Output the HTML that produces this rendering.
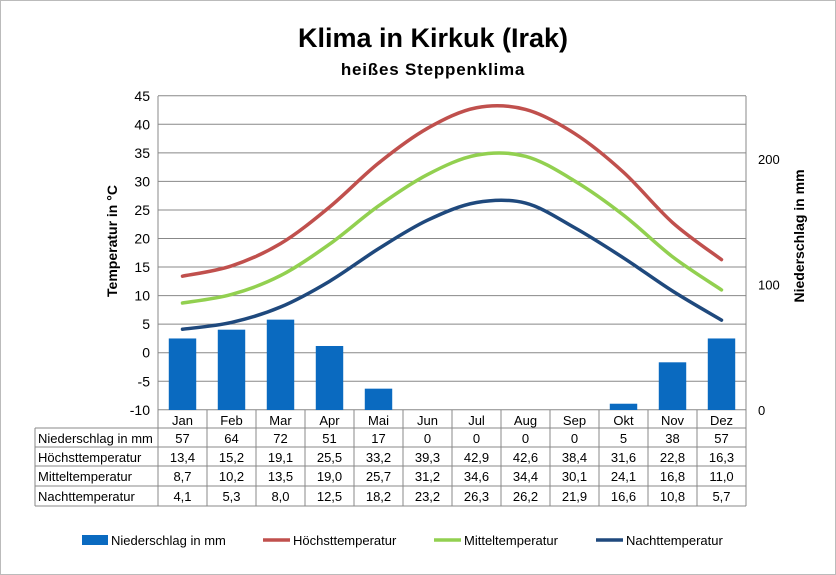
<!DOCTYPE html>
<html><head><meta charset="utf-8"><style>
body{margin:0;background:#fff;}
svg{display:block;font-family:"Liberation Sans",sans-serif;}
</style></head><body>
<svg id="s" width="836" height="575" xmlns="http://www.w3.org/2000/svg">
<rect x="0.5" y="0.5" width="835" height="574" fill="#fff" stroke="#bbb"/>
<text x="433" y="47" text-anchor="middle" font-size="27" font-weight="bold">Klima in Kirkuk (Irak)</text>
<text x="433" y="75" text-anchor="middle" font-size="17" font-weight="bold" letter-spacing="0.8">heißes Steppenklima</text>
<text transform="translate(117,241) rotate(-90)" text-anchor="middle" font-size="14" font-weight="bold">Temperatur in °C</text>
<text transform="translate(804,236) rotate(-90)" text-anchor="middle" font-size="14" font-weight="bold">Niederschlag in mm</text>
<g id="g"></g>
</svg>
<script>
const g=document.getElementById('g');let h='';
const L=158,R=746,cw=(R-L)/12;
const ty=t=>352.7-t*5.71, py=p=>410-p*1.255;
for(let t=-10;t<=45;t+=5){const y=ty(t);h+=`<line x1="${L}" x2="${R}" y1="${y}" y2="${y}" stroke="#888" stroke-width="1"/>`;h+=`<text x="150" y="${y+5}" text-anchor="end" font-size="14">${t}</text>`;}
h+=`<line x1="${L}" x2="${L}" y1="96" y2="410" stroke="#888"/><line x1="${R}" x2="${R}" y1="96" y2="410" stroke="#888"/>`;
[[0,'0'],[100,'100'],[200,'200']].forEach(([v,s])=>{h+=`<text x="758" y="${py(v)+5}" font-size="13">${s}</text>`});
const M=['Jan','Feb','Mar','Apr','Mai','Jun','Jul','Aug','Sep','Okt','Nov','Dez'];
const P=[57,64,72,51,17,0,0,0,0,5,38,57];
const H=[13.4,15.2,19.1,25.5,33.2,39.3,42.9,42.6,38.4,31.6,22.8,16.3];
const Mi=[8.7,10.2,13.5,19.0,25.7,31.2,34.6,34.4,30.1,24.1,16.8,11.0];
const N=[4.1,5.3,8.0,12.5,18.2,23.2,26.3,26.2,21.9,16.6,10.8,5.7];
P.forEach((p,i)=>{if(p>0){const x=L+i*cw+cw*0.22;h+=`<rect x="${x}" y="${py(p)}" width="${cw*0.56}" height="${410-py(p)}" fill="#0a6ac0"/>`;}});
function curve(d,c){const pts=d.map((t,i)=>[L+i*cw+cw/2,ty(t)]);let s=`M${pts[0]}`;for(let i=0;i<pts.length-1;i++){const p0=pts[Math.max(i-1,0)],p1=pts[i],p2=pts[i+1],p3=pts[Math.min(i+2,pts.length-1)];const c1=[p1[0]+(p2[0]-p0[0])/6,p1[1]+(p2[1]-p0[1])/6],c2=[p2[0]-(p3[0]-p1[0])/6,p2[1]-(p3[1]-p1[1])/6];s+=` C${c1} ${c2} ${p2}`;}h+=`<path d="${s}" fill="none" stroke="${c}" stroke-width="3.5" stroke-linecap="round"/>`;}
curve(H,'#c0504d');curve(Mi,'#92d050');curve(N,'#1f497d');
const rows=[410,428,447,466,486,506];
const st='stroke="#888" stroke-width="1"';
for(let i=0;i<=12;i++){const x=L+i*cw;h+=`<line x1="${x}" x2="${x}" y1="410" y2="506" ${st}/>`;}
h+=`<line x1="35" x2="35" y1="428" y2="506" ${st}/>`;
rows.slice(1).forEach(y=>h+=`<line x1="35" x2="${R}" y1="${y}" y2="${y}" ${st}/>`);
const fmt=v=>v.toFixed(1).replace('.',',');
const data=[['Niederschlag in mm',P.map(String)],['Höchsttemperatur',H.map(fmt)],['Mitteltemperatur',Mi.map(fmt)],['Nachttemperatur',N.map(fmt)]];
M.forEach((m,i)=>h+=`<text x="${L+i*cw+cw/2}" y="425" text-anchor="middle" font-size="13">${m}</text>`);
data.forEach(([lab,vals],r)=>{const y=rows[r+1]+15;h+=`<text x="38" y="${y}" font-size="13">${lab}</text>`;vals.forEach((v,i)=>h+=`<text x="${L+i*cw+cw/2}" y="${y}" text-anchor="middle" font-size="13">${v}</text>`);});
h+=`<rect x="82" y="535" width="26" height="10" fill="#0a6ac0"/><text x="111" y="545" font-size="13">Niederschlag in mm</text>`;
[[263,'#c0504d','Höchsttemperatur'],[434,'#92d050','Mitteltemperatur'],[596,'#1f497d','Nachttemperatur']].forEach(([x,c,t])=>{h+=`<line x1="${x}" x2="${x+27}" y1="540" y2="540" stroke="${c}" stroke-width="3.5"/><text x="${x+30}" y="545" font-size="13">${t}</text>`;});
g.innerHTML=h;
</script>
</body></html>
